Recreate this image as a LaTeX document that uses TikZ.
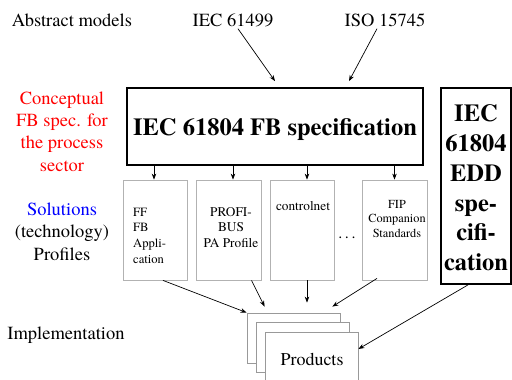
\documentclass[tikz,border=0pt]{standalone}
\usepackage{fontspec}
\setmainfont{texgyretermes}[Extension=.otf, UprightFont=*-regular, BoldFont=*-bold, ItalicFont=*-italic, BoldItalicFont=*-bolditalic]
\usetikzlibrary{arrows.meta}
\begin{document}
\begin{tikzpicture}[x=1pt,y=-1pt,
  arr/.style={-{Stealth[length=6pt,width=4.5pt]}, line width=0.7pt},
  specbox/.style={draw, line width=1.8pt, inner sep=0pt},
  profbox/.style={draw=black!30, line width=0.8pt, fill=white, inner sep=0pt},
  card/.style={draw=black!40, line width=0.8pt, fill=white, inner sep=0pt},
  lbl/.style={font=\fontsize{18.5}{22.3}\selectfont, align=center, inner sep=0pt},
  ptxt/.style={font=\fontsize{13.3}{15.6}\selectfont, inner sep=0pt}]
\clip (0,0) rectangle (512,380);
\fill[white] (0,0) rectangle (512,380);

% top labels
\node[lbl] (abs) at (72,20) {Abstract models};
\node[lbl] (iec) at (233,20) {IEC 61499};
\node[lbl] (iso) at (385,20) {ISO 15745};

% left labels
\node[lbl, text=red] (concept) at (62,131.5) {Conceptual\\FB spec. for\\the process\\sector};
\node[lbl] (sol) at (62,231.5) {\textcolor{blue}{Solutions}\\(technology)\\Profiles};
\node[lbl] (impl) at (66,335) {Implementation};

% FB spec box
\node[specbox, minimum width=296pt, minimum height=77pt] (fb) at (275,126.5) {};
\node[font=\bfseries\fontsize{24.5}{28}\selectfont, inner sep=0pt] (fbt) at (275,130) {IEC 61804 FB specification};

% EDD box
\node[specbox, minimum width=70pt, minimum height=196pt] (edd) at (476,186) {};
\node[font=\bfseries\fontsize{24.5}{29.8}\selectfont, align=center, inner sep=0pt] (eddt) at (476,188) {IEC\\61804\\EDD\\spe-\\cifi-\\cation};

% profile boxes
\node[profbox, minimum width=64pt, minimum height=100pt] (p1) at (155,230) {};
\node[profbox, minimum width=65pt, minimum height=100pt] (p2) at (228.5,230) {};
\node[profbox, minimum width=64pt, minimum height=100pt] (p3) at (302,230) {};
\node[profbox, minimum width=65pt, minimum height=100pt] (p4) at (394.5,230) {};

\node[font=\fontsize{12.6}{15.7}\selectfont, inner sep=0pt, align=left, anchor=west] (t1) at (133,235.5) {FF\\FB\\Appli-\\cation};
\node[ptxt, align=center] (t2) at (231,227.5) {PROFI-\\BUS\\PA Profile};
\node[ptxt] (t3) at (303,206) {controlnet};
\node[font=\fontsize{12.3}{14.5}\selectfont, inner sep=0pt, align=center] (t4) at (397,219) {FIP\\Companion\\Standards};
\node[font=\fontsize{16}{18}\selectfont, inner sep=0pt] (dots) at (347,238) {.\,.\,.};

% products stack
\node[card, minimum width=93pt, minimum height=50pt] (back) at (293.5,338) {};
\node[card, minimum width=93pt, minimum height=50pt] (mid) at (302.5,347) {};
\node[card, minimum width=93pt, minimum height=50pt] (front) at (311.5,357) {};
\node[font=\fontsize{18}{20}\selectfont, inner sep=0pt] (prod) at (312,359) {Products};

% arrows: abstract models to FB spec
\draw[arr] ([xshift=5pt,yshift=-2pt]iec.south) -- ([yshift=6pt]fb.north);
\draw[arr] ([xshift=-8pt,yshift=-2pt]iso.south) -- ([shift={(74pt,6pt)}]fb.north);

% FB spec to profiles
\draw[arr] ([xshift=-1pt]p1.north |- fb.south) -- ([xshift=-1pt]p1.north);
\draw[arr] ([xshift=4.5pt]p2.north |- fb.south) -- ([xshift=4.5pt]p2.north);
\draw[arr] ([xshift=5pt]p3.north |- fb.south) -- ([xshift=5pt]p3.north);
\draw[arr] (p4.north |- fb.south) -- (p4.north);

% profiles to products
\draw[arr] ([xshift=8pt]p1.south) -- (back.north west);
\draw[arr] ([xshift=23pt]p2.south) -- ([shift={(18pt,6pt)}]back.north west);
\draw[arr] ([xshift=5pt]p3.south) -- ([shift={(13.5pt,10pt)}]back.north);
\draw[arr] ([shift={(-17.5pt,2pt)}]p4.south) -- ([shift={(-8pt,6pt)}]back.north east);
\draw[arr] ([xshift=-8pt]edd.south) -- ([yshift=8pt]front.east);
\end{tikzpicture}
\end{document}
